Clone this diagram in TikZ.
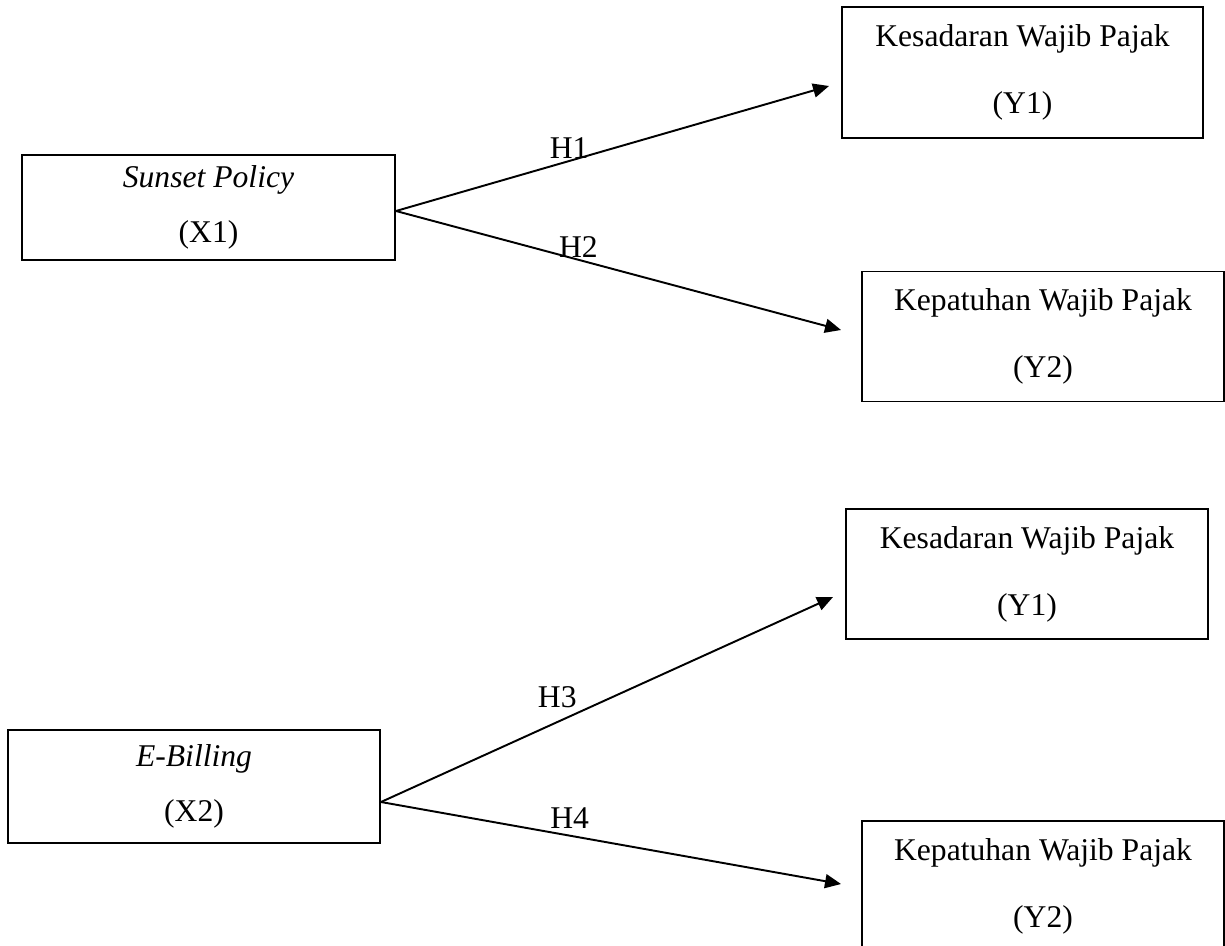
\documentclass[tikz,border=0pt]{standalone}
\usepackage{fontspec}
\setmainfont{Liberation Serif}
\usetikzlibrary{arrows.meta}

\begin{document}
\begin{tikzpicture}[
  line width=1.1pt,
  xbox/.style={rectangle, draw, align=center, minimum width=7.46cm,
               minimum height=2.1cm, font=\fontsize{18}{31}\selectfont},
  ybox/.style={rectangle, draw, align=center, minimum width=7.24cm,
               minimum height=2.6cm, font=\fontsize{18}{38}\selectfont},
  arr/.style={-{Triangle[length=0.32cm, width=0.28cm]}},
  hyp/.style={above, inner sep=1pt, font=\fontsize{18}{20}\selectfont}]
  \useasboundingbox (0,0) rectangle (24.5,-18.9);
  % independent variables
  \node[xbox] (x1) at (4.17,-4.15) {\textit{Sunset Policy}\\(X1)};
  \node[xbox, minimum width=7.44cm, minimum height=2.26cm] (x2) at (3.88,-15.73) {\textit{E-Billing}\\(X2)};
  % dependent variables
  \node[ybox, minimum width=7.22cm, minimum height=2.62cm] (y1a) at (20.45,-1.45) {Kesadaran Wajib Pajak\\(Y1)};
  \node[ybox] (y2a) at (20.86,-6.73) {Kepatuhan Wajib Pajak\\(Y2)};
  \node[ybox] (y1b) at (20.54,-11.48) {Kesadaran Wajib Pajak\\(Y1)};
  \node[ybox] (y2b) at (20.86,-17.72) {Kepatuhan Wajib Pajak\\(Y2)};
  % hypotheses
  \draw[arr] ([yshift=-0.07cm]x1.east) -- node[hyp, pos=0.4] {H1} ([xshift=-0.24cm, yshift=-0.27cm]y1a.west);
  \draw[arr] ([yshift=-0.07cm]x1.east) -- node[hyp, pos=0.41] {H2} ([xshift=-0.4cm, yshift=0.13cm]y2a.west);
  \draw[arr] ([yshift=-0.31cm]x2.east) -- node[hyp, pos=0.39, yshift=0.24cm] {H3} ([xshift=-0.24cm, yshift=-0.46cm]y1b.west);
  \draw[arr] ([yshift=-0.31cm]x2.east) -- node[hyp, pos=0.41, yshift=0.08cm] {H4} ([xshift=-0.4cm, yshift=0.04cm]y2b.west);
\end{tikzpicture}
\end{document}
